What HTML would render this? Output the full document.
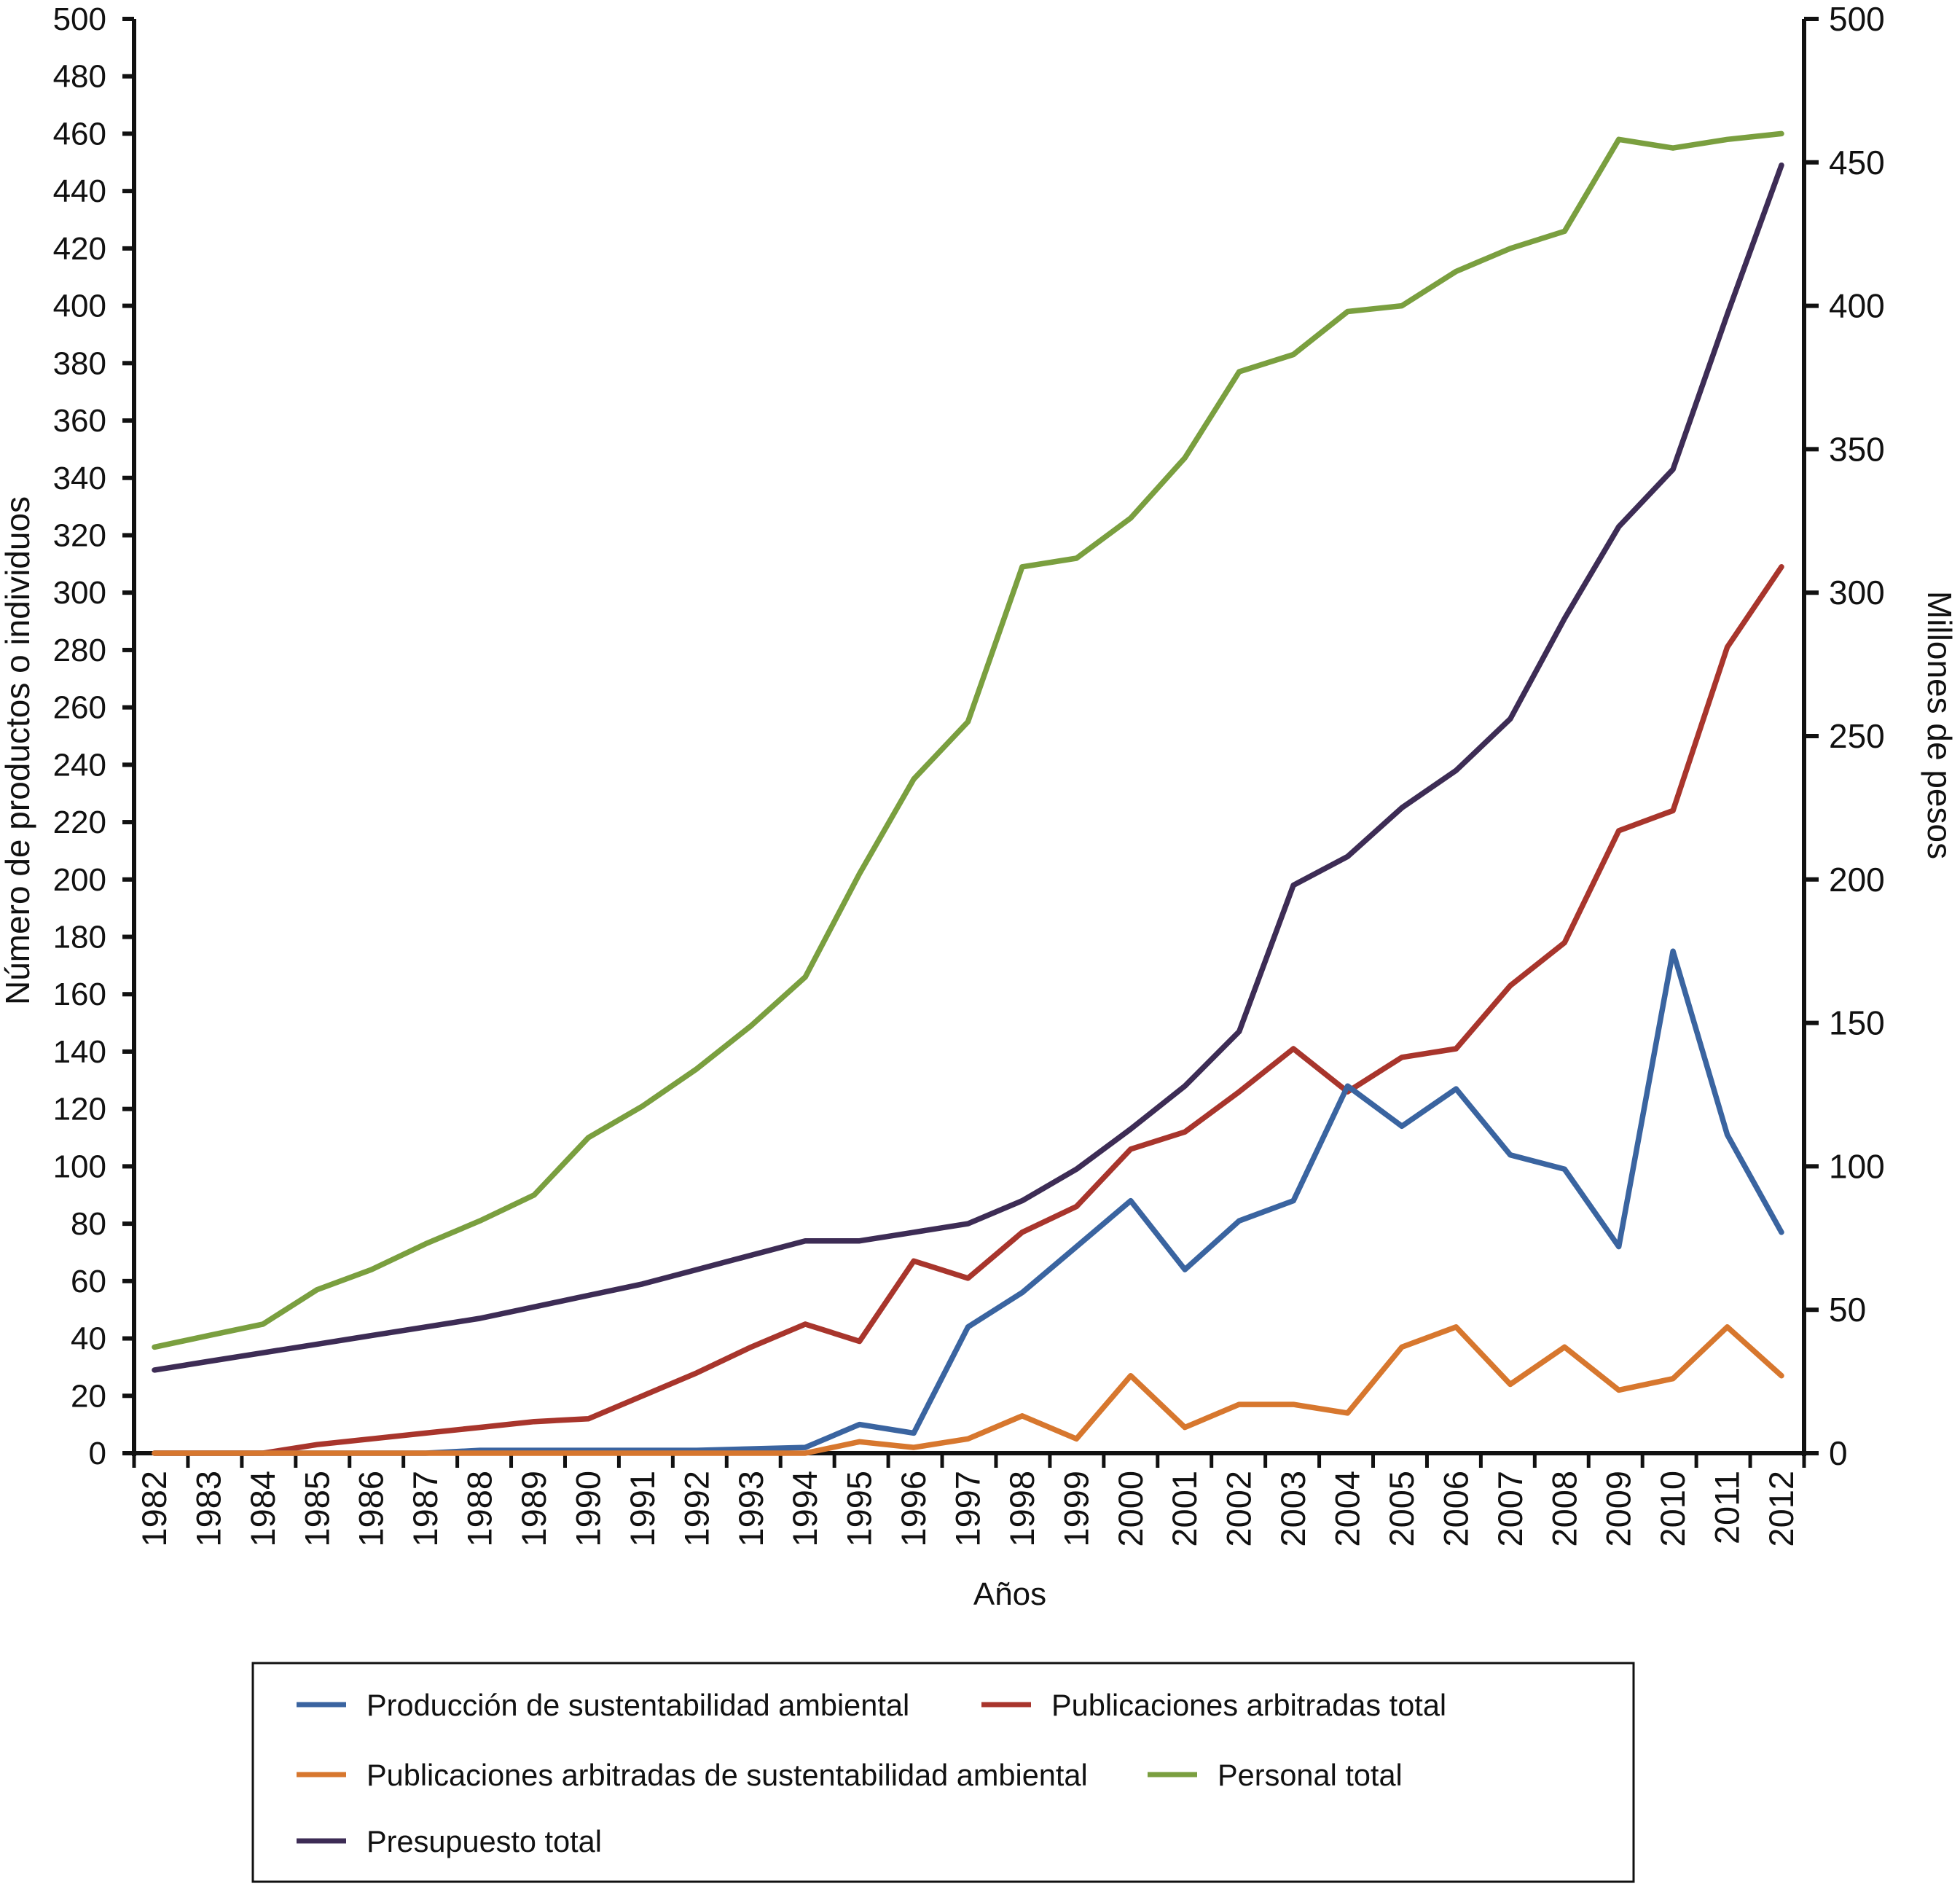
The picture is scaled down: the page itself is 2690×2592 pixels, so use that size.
<!DOCTYPE html>
<html><head><meta charset="utf-8"><style>
body{margin:0;background:#fff;}
svg text{font-family:"Liberation Sans",sans-serif;fill:#111;}
</style></head><body>
<svg id="chart" width="2690" height="2587" viewBox="0 0 2690 2587" xmlns="http://www.w3.org/2000/svg">
<g id="axes"></g>
<g id="series"></g>
<g id="legend"></g>
</svg>
<script>
const years = [1982,1983,1984,1985,1986,1987,1988,1989,1990,1991,1992,1993,1994,1995,1996,1997,1998,1999,2000,2001,2002,2003,2004,2005,2006,2007,2008,2009,2010,2011,2012];
const leftTicks = [0,20,40,60,80,100,120,140,160,180,200,220,240,260,280,300,320,340,360,380,400,420,440,460,480,500];
const rightTicks = [0,50,100,150,200,250,300,350,400,450,500];
const produccion = [0,0,0,0,0,0,1,1,1,1,1,1.5,2,10,7,44,56,72,88,64,81,88,128,114,127,104,99,72,175,111,77];
const publicTotal = [0,0,0,3,5,7,9,11,12,20,28,37,45,39,67,61,77,86,106,112,126,141,126,138,141,163,178,217,224,281,309];
const publicSust = [0,0,0,0,0,0,0,0,0,0,0,0,0,4,2,5,13,5,27,9,17,17,14,37,44,24,37,22,26,44,27];
const personal = [37,41,45,57,64,73,81,90,110,121,134,149,166,202,235,255,309,312,326,347,377,383,398,400,412,420,426,458,455,458,460];
const presupuesto = [29,32,35,38,41,44,47,51,55,59,64,69,74,74,77,80,88,99,113,128,147,198,208,225,238,256,291,323,343,397,449];

const NS='http://www.w3.org/2000/svg';
const X0=184, X1=2476, Y0=1994, Y1=26;
const xFirst=212, xLast=2445;
function xPos(i){return xFirst+(xLast-xFirst)*i/(years.length-1);}
function yL(v){return Y0-(v/500)*(Y0-Y1);}
function yR(v){return Y0-(v/500)*(Y0-Y1);}
function mk(tag,attrs,parent){const e=document.createElementNS(NS,tag);for(const k in attrs)e.setAttribute(k,attrs[k]);parent.appendChild(e);return e;}
const axes=document.getElementById('axes');
let e;
e=mk('line',{x1:X0,y1:Y1,x2:X0,y2:Y0+4,stroke:'#111','stroke-width':6},axes);


e=mk('line',{x1:X1,y1:Y1,x2:X1,y2:Y0+4,stroke:'#111','stroke-width':6},axes);


e=mk('line',{x1:X0-3,y1:Y0,x2:X1+3,y2:Y0,stroke:'#111','stroke-width':6},axes);


leftTicks.forEach(v=>{
  mk('line',{x1:X0-16,y1:yL(v),x2:X0,y2:yL(v),stroke:'#111','stroke-width':6},axes);
  const t=mk('text',{x:X0-38,y:yL(v)+15,'text-anchor':'end','font-size':44},axes);
  t.textContent=v;
  
  
});
rightTicks.forEach(v=>{
  mk('line',{x1:X1,y1:yR(v),x2:X1+20,y2:yR(v),stroke:'#111','stroke-width':6},axes);
  const t=mk('text',{x:X1+34,y:yR(v)+16,'text-anchor':'start','font-size':46},axes);
  t.textContent=v;
  
  
});
const cw=(X1-X0)/years.length;
for(let k=0;k<=years.length;k++){
  mk('line',{x1:X0+k*cw,y1:Y0,x2:X0+k*cw,y2:Y0+20,stroke:'#111','stroke-width':5},axes);
}
years.forEach((yr,i)=>{
  const cx=xPos(i)+16;
  const t=mk('text',{x:cx,y:2018,'text-anchor':'end','font-size':47,transform:`rotate(-90 ${cx} 2018)`},axes);
  t.textContent=yr;
  
  
});
e=mk('text',{x:1386,y:2202,'text-anchor':'middle','font-size':44},axes);e.textContent='Años';


e=mk('text',{x:40,y:1030,'text-anchor':'middle','font-size':46,transform:'rotate(-90 40 1030)'},axes);e.textContent='Número de productos o individuos';


e=mk('text',{x:2646,y:995,'text-anchor':'middle','font-size':46,transform:'rotate(90 2646 995)'},axes);e.textContent='Millones de pesos';



const series=document.getElementById('series');
function line(data,color,name,yf){
  const pts=data.map((v,i)=>xPos(i).toFixed(1)+','+yf(v).toFixed(1)).join(' ');
  const p=mk('polyline',{points:pts,fill:'none',stroke:color,'stroke-width':7.5,'stroke-linejoin':'round','stroke-linecap':'round'},series);
  
  
}
line(personal,'#7a9f3f','personal-total-line',yL);
line(presupuesto,'#3d2c55','presupuesto-total-line',yR);
line(publicTotal,'#a8352c','publicaciones-total-line',yL);
line(produccion,'#3a64a0','produccion-sustentabilidad-line',yL);
line(publicSust,'#d7772e','publicaciones-sustentabilidad-line',yL);

const lg=document.getElementById('legend');
e=mk('rect',{x:347,y:2282,width:1895,height:300,fill:'none',stroke:'#111','stroke-width':3},lg);


const entries=[
 ['Producción de sustentabilidad ambiental','#3a64a0',407,2339],
 ['Publicaciones arbitradas total','#a8352c',1347,2339],
 ['Publicaciones arbitradas de sustentabilidad ambiental','#d7772e',407,2435],
 ['Personal total','#7a9f3f',1575,2435],
 ['Presupuesto total','#3d2c55',407,2526]
];
entries.forEach(en=>{
  const g=mk('g',{},lg);
  
  
  mk('line',{x1:en[2],y1:en[3],x2:en[2]+68,y2:en[3],stroke:en[1],'stroke-width':7},g);
  const t=mk('text',{x:en[2]+96,y:en[3]+15,'font-size':41.5},g);
  t.textContent=en[0];
});
</script>
</body></html>
